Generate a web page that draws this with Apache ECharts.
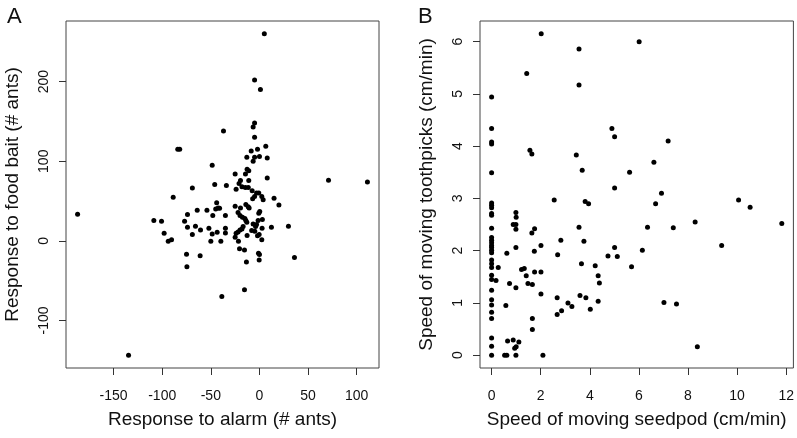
<!DOCTYPE html>
<html><head><meta charset="utf-8">
<script src="https://cdn.jsdelivr.net/npm/echarts@6/dist/echarts.min.js"></script>
<style>html,body{margin:0;padding:0;background:#fff}#c{width:797px;height:438px}</style>
</head><body><div id="c"></div>
<script>
// Panel A: response to alarm (x) vs response to food bait (y), # ants
const alarmX = [5,-5,1,-5,-6.5,-5,-37,6.5,-2,-84,-82,-13,-5,0,8,-8.5,-12.7,-11,-6.5,-48.6,-25,-14.4,8,-11,-19.5,-21,71,111,-46,-34,-69,-24,-18,-14.5,-11.5,-7.5,-3,-0.7,-5,-7,2.4,3.8,15,20,-88.7,-44,-42.5,-45,-41,-25,-19.5,-14,-11.6,-10.6,-54,-64,-74,-187,-35,-48,-22,-20,-17.5,-15,-14,-13,0.3,-0.7,-108.6,-100.7,-77,-1.4,3,-3,-6.5,-4,-74,-65.8,-52,-60.6,-43.5,-35,-35,-16.8,-18,-22,-24,-20,-8,-4.8,2.7,12.3,29.8,-98,-69,-48.6,-25,-12.7,-2,-0.3,-93.8,-90.4,-50,-39.7,-21.6,2.4,-20.5,-15.4,-1,0,-75,-61,36,-0.3,-13.4,-74.6,-38.7,-15.4,-134.6];
const foodY = [260,202,190,148,143,130,138,119,115,115,115,105,105,106,104,113,90,88,100,95,84,84,79,75.7,75.7,72,76,74,70.7,69.5,66.5,65,68,67,67,63,60,60,55.6,53,55.6,51.5,53.5,45,54.8,48,41.4,40,41,43.5,41.4,45.6,43,41.4,38.5,38.5,33,33.5,32,32,35.6,32,29.7,28,25.5,23.4,36.8,34.7,25.5,24.7,24.7,25.5,26.8,20.5,21.3,18,17,18.4,16,13.8,10.9,16,10,18,15,11.3,9.6,13.8,13,12.1,16,17,18.4,9.6,8,8.8,4.6,6.7,6.3,8,-0.4,1.3,-0.4,-0.4,-0.4,1.3,-10,-11.3,-15.5,-17,-16.7,-18.8,-21,-24,-26.4,-32.6,-70,-61.5,-143.5];

// Panel B: speed of moving seedpod (x) vs speed of moving toothpicks (y), cm/min
const seedpodX = [0,0,0,0,0,0,0,0,0,0,0,0,0,0,0,0,0,0,0,0,0,0,0,0,0,0,0,0,0,0,0,
 2.02,6.01,3.56,1.43,3.56,4.90,5.01,7.19,1.56,1.64,3.45,6.61,3.69,5.62,5.01,6.92,2.55,10.06,3.81,3.95,6.68,10.53,0.99,1.0,8.29,11.82,0.88,0.99,0.99,1.75,1.64,3.56,6.35,7.40,2.82,3.76,2.01,9.37,0.99,5.01,6.14,0.62,1.74,2.69,4.74,5.12,0.27,3.66,4.22,5.70,1.22,1.33,1.75,2.01,1.41,4.34,0.18,4.39,0.73,1.48,1.66,0.99,2.01,3.60,2.67,3.84,3.11,3.27,4.34,7.02,7.53,0.58,4.02,2.85,2.67,1.66,1.66,0.65,0.88,1.11,0.94,1.0,8.38,0.53,0.62,0.99,2.09];
const toothpickY = [4.94,4.34,4.08,4.04,3.49,2.91,2.87,2.82,2.71,2.68,2.43,2.25,2.20,2.15,2.10,2.06,2.01,1.96,1.82,1.75,1.68,1.53,1.45,1.24,1.06,0.96,0.82,0.70,0.33,0.17,0,
 6.15,6.0,5.86,5.39,5.17,4.34,4.18,4.10,3.92,3.85,3.83,3.69,3.54,3.50,3.20,3.10,2.97,2.97,2.94,2.90,2.90,2.83,2.73,2.64,2.55,2.52,2.50,2.50,2.41,2.42,2.34,2.45,2.45,2.44,2.20,2.18,2.10,2.10,2.06,2.06,2.01,1.95,1.99,1.92,1.90,1.89,1.68,1.75,1.71,1.69,1.64,1.66,1.59,1.59,1.52,1.52,1.43,1.38,1.37,1.37,1.35,1.29,1.17,1.14,1.10,1.10,1.00,0.93,1.03,1.01,0.98,0.95,0.88,0.85,0.78,0.70,0.49,0.27,0.29,0.25,0.13,0.16,0.16,0,0,0,0];

const ticksAX = [-150,-100,-50,0,50,100];
const ticksAY = [-100,0,100,200];
const ticksBX = [0,2,4,6,8,10,12];
const ticksBY = [0,1,2,3,4,5,6];

function zip(a,b){return a.map((v,i)=>[v,b[i]]);}
function rng(a){const lo=Math.min(...a),hi=Math.max(...a),d=(hi-lo)*0.04;return [lo-d,hi+d];}

const FONT = 'Liberation Sans, Arial, sans-serif';
const TXT = '#111';
function xAx(idx, vals, ticks, name){
  const r=rng(vals);
  return {gridIndex:idx,type:'value',min:r[0],max:r[1],position:'bottom',
    name:name,nameLocation:'middle',nameGap:42,
    nameTextStyle:{fontSize:19,fontFamily:FONT,color:TXT},
    axisLine:{show:false,onZero:false},splitLine:{show:false},
    axisTick:{show:true,inside:false,length:7,customValues:ticks,lineStyle:{color:'#333'}},
    axisLabel:{customValues:ticks,fontSize:14,fontFamily:FONT,color:TXT,margin:21}};
}
function yAx(idx, vals, ticks, name, gap){
  const r=rng(vals);
  return {gridIndex:idx,type:'value',min:r[0],max:r[1],position:'left',
    name:name,nameLocation:'middle',nameGap:gap,nameRotate:90,
    nameTextStyle:{fontSize:19,fontFamily:FONT,color:TXT},
    axisLine:{show:false,onZero:false},splitLine:{show:false},
    axisTick:{show:true,inside:false,length:7,customValues:ticks,lineStyle:{color:'#333'}},
    axisLabel:{customValues:ticks,rotate:90,fontSize:14,fontFamily:FONT,color:TXT,margin:15}};
}

const chart = echarts.init(document.getElementById('c'), null, {renderer:'canvas'});
chart.setOption({
  animation:false,
  backgroundColor:'#fff',
  title:[
    {text:'A',left:2,top:1,textStyle:{fontSize:22,fontWeight:'normal',fontFamily:FONT,color:TXT}},
    {text:'B',left:413,top:1,textStyle:{fontSize:22,fontWeight:'normal',fontFamily:FONT,color:TXT}}
  ],
  grid:[
    {left:66,top:21,width:313,height:347,show:true,borderColor:'#444',borderWidth:1,backgroundColor:'transparent'},
    {left:480,top:21,width:314,height:347,show:true,borderColor:'#444',borderWidth:1,backgroundColor:'transparent'}
  ],
  xAxis:[
    xAx(0, alarmX, ticksAX, 'Response to alarm (# ants)'),
    xAx(1, seedpodX, ticksBX, 'Speed of moving seedpod (cm/min)')
  ],
  yAxis:[
    yAx(0, foodY, ticksAY, 'Response to food bait (# ants)', 44),
    yAx(1, toothpickY, ticksBY, 'Speed of moving toothpicks (cm/min)', 44)
  ],
  series:[
    {type:'scatter',xAxisIndex:0,yAxisIndex:0,data:zip(alarmX,foodY),symbolSize:5,itemStyle:{color:'#000',opacity:1}},
    {type:'scatter',xAxisIndex:1,yAxisIndex:1,data:zip(seedpodX,toothpickY),symbolSize:5,itemStyle:{color:'#000',opacity:1}}
  ]
});
</script></body></html>
